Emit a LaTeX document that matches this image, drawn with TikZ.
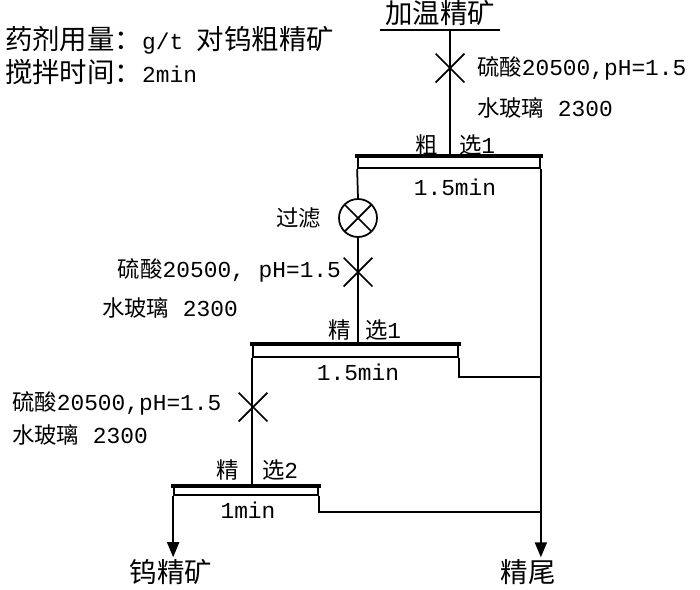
\documentclass[tikz,border=0pt]{standalone}
\usepackage{fontspec}
\setmainfont{Liberation Mono}
\newfontfamily\cjk[Scale=0.98]{Noto Sans CJK SC}
\newfontfamily\cjkbig[Scale=1.2]{Noto Sans CJK SC}
\usetikzlibrary{arrows.meta, positioning, shapes.misc}

\begin{document}
\begin{tikzpicture}[x=0.02cm, y=-0.02cm,
    cell/.style={draw, rectangle, inner sep=0pt, line width=1pt},
    bartop/.style={line width=2.6pt, line cap=rect},
    mix/.style={draw, cross out, minimum size=0.54cm, inner sep=0pt, line width=1pt},
    filt/.style={draw, circle, minimum size=0.76cm, inner sep=0pt, line width=1pt,
                 path picture={\draw[line width=1pt]
                   (path picture bounding box.south west) -- (path picture bounding box.north east)
                   (path picture bounding box.north west) -- (path picture bounding box.south east);}},
    flow/.style={line width=1pt},
    arr/.style={-{Triangle[length=0.3cm, width=0.24cm]}, line width=1pt},
    txt/.style={font=\fontsize{13}{15}\selectfont, inner sep=1pt}
  ]
  \useasboundingbox (0,0) rectangle (700,589);

  % notes and feed
  \node[txt, anchor=west] (note1) at (3,40) {{\cjkbig 药剂用量：}g/t {\cjkbig 对钨粗精矿}};
  \node[txt, anchor=west] (note2) at (3,72) {{\cjkbig 搅拌时间：}2min};
  \node[txt, anchor=south, inner xsep=3pt, inner ysep=2pt] (feed) at (440,30) {\cjkbig 加温精矿};

  % rougher
  \node[mix] (m1) at (450,68) {};
  \node[txt, anchor=west] (r1) at (475,68)  {{\cjk 硫酸}20500,pH=1.5};
  \node[txt, anchor=west] (w1) at (475,108) {{\cjk 水玻璃} 2300};
  \node[txt] (s1a) at (427,145) {\cjk 粗};
  \node[txt, anchor=west] (s1b) at (457,145) {{\cjk 选}1};
  \node[cell, minimum width=3.64cm, minimum height=0.22cm] (bar1) at (449,162.5) {};
  \node[txt] (t1) at (455,187) {1.5min};

  % filter
  \node[filt] (f1) at (358,218) {};
  \node[txt, left=0.3cm of f1] (f1l) {\cjk 过滤};

  % cleaner 1
  \node[mix] (m2) at (358,272) {};
  \node[txt, anchor=east] (r2) at (343,270) {{\cjk 硫酸}20500, pH=1.5};
  \node[txt, anchor=west] (w2) at (100,308) {{\cjk 水玻璃} 2300};
  \node[txt] (s2a) at (340,330) {\cjk 精};
  \node[txt, anchor=west] (s2b) at (363,330) {{\cjk 选}1};
  \node[cell, minimum width=4.1cm, minimum height=0.24cm] (bar2) at (355.5,351) {};
  \node[txt] (t2) at (358,372) {1.5min};

  % cleaner 2
  \node[mix] (m3) at (253,407) {};
  \node[txt, anchor=west] (r3) at (10,403) {{\cjk 硫酸}20500,pH=1.5};
  \node[txt, anchor=west] (w3) at (10,435) {{\cjk 水玻璃} 2300};
  \node[txt] (s3a) at (228,470) {\cjk 精};
  \node[txt, anchor=west] (s3b) at (260,470) {{\cjk 选}2};
  \node[cell, minimum width=2.88cm, minimum height=0.16cm] (bar3) at (246,491) {};
  \node[txt] (t3) at (248,510) {1min};

  % products
  \node[txt] (conc) at (171,572) {\cjkbig 钨精矿};
  \node[txt] (tail) at (528,572) {\cjkbig 精尾};
  \coordinate (j1) at (540,377);
  \coordinate (j2) at (540,512);

  \foreach \b in {bar1,bar2,bar3}
    \draw[bartop] (\b.north west) -- (\b.north east);
  \draw[flow] (feed.south west) -- (feed.south east);
  \draw[flow] (m1 |- feed.south) -- (m1 |- bar1.north);
  \draw[flow] (bar1.south west) -- (f1.north);
  \draw[flow] (f1.south) -- (bar2.north -| f1);
  \draw[flow] (bar2.south west) -- (bar3.north -| bar2.south west);
  \draw[arr] (bar3.south west) -- (bar3.south west |- conc.north);
  \draw[arr] (bar1.south east) -- (bar1.south east |- tail.north);
  \draw[flow] (bar2.south east) |- (j1);
  \draw[flow] (bar3.south east) |- (j2);
\end{tikzpicture}
\end{document}
